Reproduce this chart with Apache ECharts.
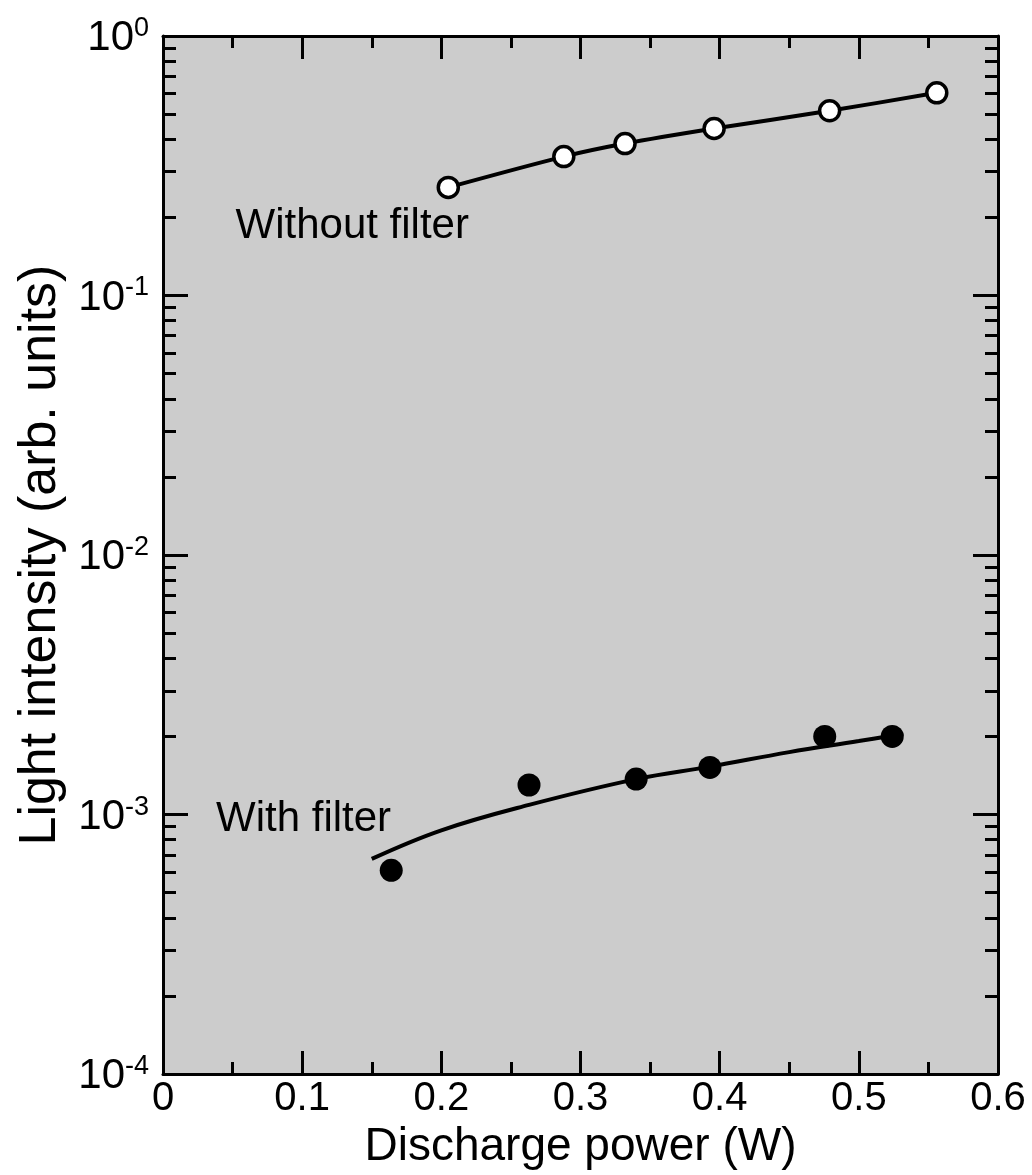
<!DOCTYPE html>
<html>
<head>
<meta charset="utf-8">
<script src="https://cdn.jsdelivr.net/npm/echarts@6/dist/echarts.min.js"></script>
<style>
  html, body { margin: 0; padding: 0; background: #fff; }
  #chart { width: 1032px; height: 1175px; }
</style>
</head>
<body>
<div id="chart"></div>
<script>
// open circles: without filter
const powerWithout = [0.205, 0.288, 0.332, 0.396, 0.479, 0.556];
const intensityWithout = [0.261, 0.343, 0.385, 0.44, 0.515, 0.604];

// filled circles: with filter
const powerWith = [0.164, 0.263, 0.340, 0.393, 0.4755, 0.524];
const intensityWith = [6.1e-4, 1.30e-3, 1.37e-3, 1.52e-3, 2.0e-3, 2.0e-3];

// fitted curve through the filled circles
const fitPower = [0.15, 0.2, 0.263, 0.34, 0.393, 0.45, 0.5, 0.532];
const fitIntensity = [6.75e-4, 8.7e-4, 1.09e-3, 1.37e-3, 1.53e-3, 1.74e-3, 1.92e-3, 2.05e-3];

// y ticks
const yMajor = [1e-4, 1e-3, 1e-2, 1e-1, 1];
const decades = [-4, -3, -2, -1];
const minorSteps = [2, 3, 4, 5, 6, 7, 8, 9];
const yMinor = [];
decades.forEach(d => minorSteps.forEach(k => yMinor.push(+(k * Math.pow(10, d)).toPrecision(3))));

const annotations = [
    { text: "Without filter", x: 0.136, y: 0.185 },
    { text: "With filter", x: 0.101, y: 9.6e-4 }
];

const FONT = "Liberation Sans, Arial, sans-serif";
const black = "#000";

const chart = echarts.init(document.getElementById("chart"));

const yBase = (pos, minor) => ({
    type: "log",
    logBase: 10,
    min: 1e-4,
    max: 1,
    position: pos,
    axisLine: { show: !minor, onZero: false, lineStyle: { color: black, width: 3 } },
    axisTick: {
        show: true,
        inside: true,
        length: minor ? 13 : 25,
        lineStyle: { color: black, width: 3 },
        customValues: minor ? yMinor : yMajor
    },
    splitLine: { show: false },
    axisLabel: { show: false }
});

const yLeft = yBase("left", false);
yLeft.axisLabel = {
    show: true,
    customValues: yMajor,
    margin: 14,
    fontFamily: FONT,
    color: black,
    formatter(v) {
        const e = Math.round(Math.log10(v));
        return "{b|10}{s|" + e + "}";
    },
    rich: {
        b: { fontSize: 42, lineHeight: 42, fontFamily: FONT, color: black, padding: [5, 0, 0, 0] },
        s: { fontSize: 27, lineHeight: 27, fontFamily: FONT, color: black, verticalAlign: "top" }
    }
};
yLeft.name = "Light intensity (arb. units)";
yLeft.nameLocation = "middle";
yLeft.nameRotate = 90;
yLeft.nameGap = 96;
yLeft.nameTextStyle = { fontSize: 52, fontFamily: FONT, color: black };

const xBase = (pos) => ({
    type: "value",
    min: 0,
    max: 0.6,
    interval: 0.1,
    position: pos,
    axisLine: { show: true, onZero: false, lineStyle: { color: black, width: 3 } },
    axisTick: { show: true, inside: true, length: 23, lineStyle: { color: black, width: 3 } },
    minorTick: { show: true, splitNumber: 2, length: 12, lineStyle: { color: black, width: 3 } },
    splitLine: { show: false },
    minorSplitLine: { show: false },
    axisLabel: { show: false }
});

const xBottom = xBase("bottom");
xBottom.axisLabel = {
    show: true,
    margin: 5,
    fontSize: 40,
    fontFamily: FONT,
    color: black,
    formatter: v => (v === 0 ? "0" : v.toFixed(1))
};
xBottom.name = "Discharge power (W)";
xBottom.nameLocation = "middle";
xBottom.nameGap = 48;
xBottom.nameTextStyle = { fontSize: 46, fontFamily: FONT, color: black, verticalAlign: "top" };

chart.setOption({
    animation: false,
    backgroundColor: "#fff",
    grid: {
        left: 163,
        right: 34,
        top: 36,
        bottom: 97,
        show: true,
        backgroundColor: "#cccccc",
        borderWidth: 0
    },
    xAxis: [xBottom, xBase("top")],
    yAxis: [yLeft, yBase("left", true), yBase("right", false), yBase("right", true)],
    series: [
        {
            name: "Without filter",
            type: "line",
            smooth: 0.3,
            data: powerWithout.map((x, i) => [x, intensityWithout[i]]),
            symbol: "circle",
            symbolSize: 20,
            itemStyle: { color: "#fff", borderColor: black, borderWidth: 3.5, opacity: 1 },
            lineStyle: { color: black, width: 4 },
            z: 3
        },
        {
            name: "Fit",
            type: "line",
            smooth: 0.4,
            showSymbol: false,
            data: fitPower.map((x, i) => [x, fitIntensity[i]]),
            lineStyle: { color: black, width: 4 },
            z: 2
        },
        {
            name: "With filter",
            type: "scatter",
            data: powerWith.map((x, i) => [x, intensityWith[i]]),
            symbol: "circle",
            symbolSize: 23,
            itemStyle: { color: black, opacity: 1 },
            z: 4
        },
        {
            name: "labels",
            type: "scatter",
            symbolSize: 0,
            itemStyle: { opacity: 1 },
            data: annotations.map(a => ({ value: [a.x, a.y], name: a.text })),
            label: {
                show: true,
                position: "inside",
                formatter: p => p.name,
                fontSize: 42,
                fontFamily: FONT,
                color: black,
                opacity: 1
            },
            silent: true
        }
    ]
});
</script>
</body>
</html>
